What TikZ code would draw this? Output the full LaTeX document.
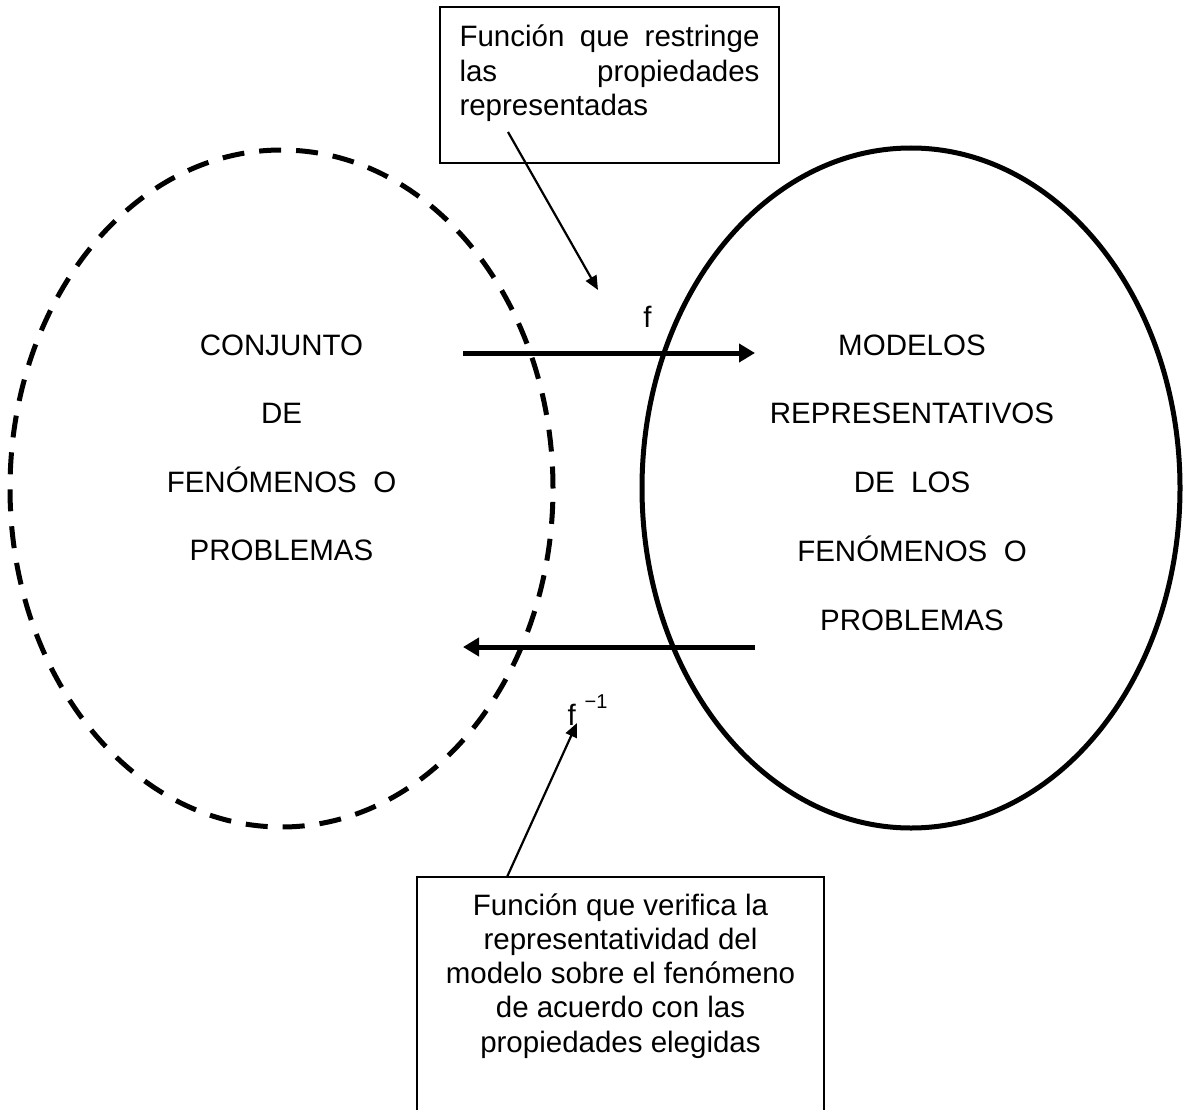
\documentclass[tikz,border=0pt]{standalone}
\usepackage{fontspec}
\setmainfont{Liberation Sans}
\usetikzlibrary{arrows.meta,shapes.geometric}
\begin{document}
\begin{tikzpicture}[x=1pt,y=-1pt,
  txt/.style={inner sep=0pt,outer sep=0pt,font=\fontsize{29.5}{34.3}\selectfont},
  setnode/.style={ellipse,line width=5pt,inner sep=0pt,outer sep=0pt},
  callout/.style={draw,line width=1.8pt,inner sep=0pt,outer sep=0pt},
  maparrow/.style={line width=5pt,-{Triangle[length=16pt,width=18pt]}},
  pointer/.style={line width=2.2pt,-{Triangle[length=14pt,width=12pt]}}]
\clip (0,0) rectangle (1183,1110);
\useasboundingbox (0,0) rectangle (1183,1110);
% sets
\node[setnode,draw,dash pattern=on 22pt off 15pt,minimum width=543pt,minimum height=677pt] (A) at (281.5,488.5) {};
\node[setnode,draw,minimum width=538pt,minimum height=680pt] (B) at (911,488) {};
% texts inside sets
\node[txt,anchor=base,font=\fontsize{29.5}{68.5}\selectfont] (Atext) at (281.5,355)
  {\begin{tabular}[t]{@{}c@{}}CONJUNTO\\DE\\FENÓMENOS\ \ O\\PROBLEMAS\end{tabular}};
\node[txt,anchor=base,font=\fontsize{29.5}{68.75}\selectfont] (Btext) at (912,355)
  {\begin{tabular}[t]{@{}c@{}}MODELOS\\REPRESENTATIVOS\\DE\ \ LOS\\FENÓMENOS\ \ O\\PROBLEMAS\end{tabular}};
% callout boxes
\node[callout,minimum width=339pt,minimum height=156pt] (top) at (609.5,85) {};
\node[txt,anchor=base west] (toptext) at (459.5,47)
  {\parbox[t]{300pt}{\fontsize{29.5}{34.3}\selectfont Función que restringe\linebreak las propiedades\linebreak representadas}};
\node[callout,minimum width=407pt,minimum height=273pt] (bot) at (620.5,1013.5) {};
\node[txt,anchor=base] (bottext) at (620.5,915)
  {\parbox[t]{400pt}{\centering\fontsize{29.5}{34.3}\selectfont Función que verifica la\\representatividad del\\modelo sobre el fenómeno\\de acuerdo con las\\propiedades elegidas}};
% labels
\node[txt,anchor=base] (f) at (647.5,327) {f};
\node[txt,anchor=base west] (finv) at (567.5,725) {f\hspace{9pt}\raisebox{17pt}{\fontsize{20}{20}\selectfont −1}};
% arrow end points
\coordinate (fs) at (463,353);
\coordinate (fe) at (755,353);
\coordinate (gs) at (755,647);
\coordinate (ge) at (463,647);
\coordinate (p1s) at (508,132);
\coordinate (p1e) at (598,290);
\coordinate (p2s) at (507,877);
\coordinate (p2e) at (577,723);
\draw[maparrow] (fs) -- (fe);
\draw[maparrow] (gs) -- (ge);
\draw[pointer] (p1s) -- (p1e);
\draw[pointer] (p2s) -- (p2e);
\end{tikzpicture}
\end{document}
